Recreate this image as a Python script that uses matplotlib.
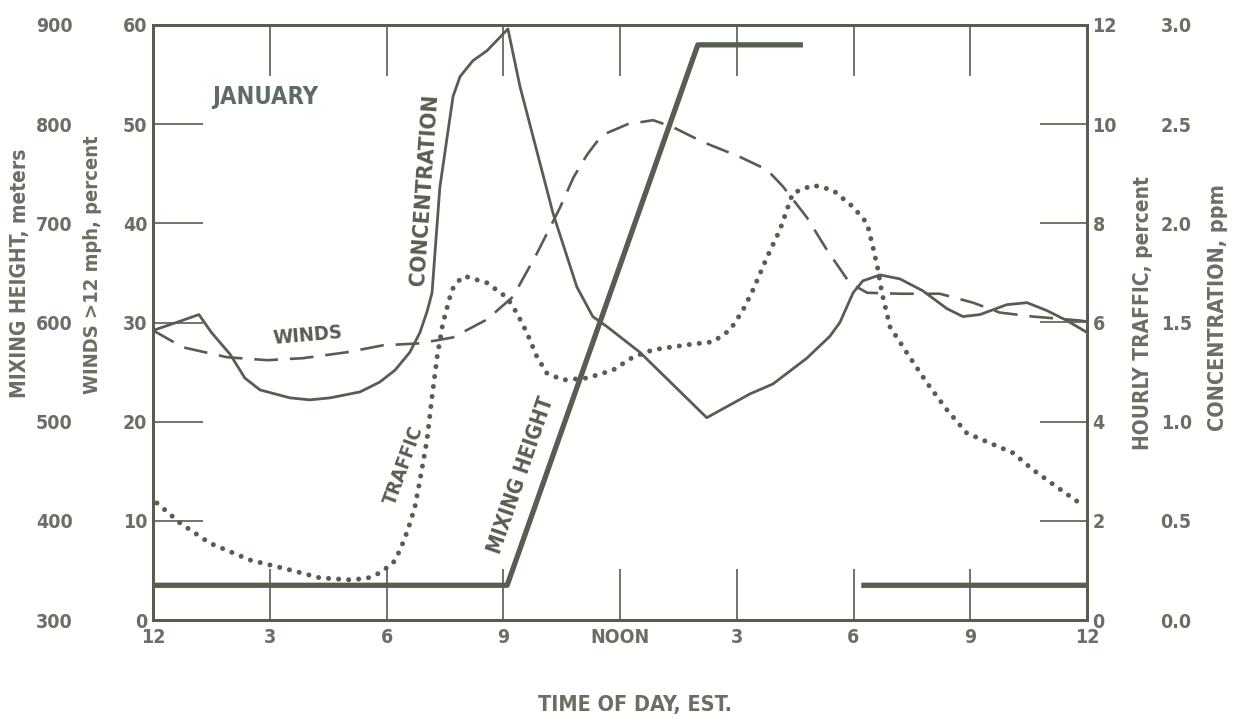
import matplotlib
matplotlib.use("Agg")
import matplotlib.pyplot as plt
import numpy as np

plt.rcParams['font.family'] = ['DejaVu Sans']
plt.rcParams['font.stretch'] = 'condensed'
plt.rcParams['font.weight'] = 'bold'

INK = '#585d52'
TXT = '#6a6e64'

# hours after midnight
conc_h = [0, 0.6, 1.18, 1.5, 1.98, 2.36, 2.75, 3.52, 4.03, 4.55, 5.32, 5.83, 6.22, 6.6,
          6.86, 7.05, 7.17, 7.37, 7.71, 7.89, 8.22, 8.58, 9.12, 9.43, 10.28, 10.89, 11.3,
          11.66, 12.51, 14.23, 15.34, 15.93, 16.8, 17.39, 17.65, 17.99, 18.24, 18.68,
          19.19, 19.78, 20.4, 20.81, 21.25, 21.94, 22.46, 22.97, 23.48, 24.0]
conc_ppm = [1.46, 1.50, 1.54, 1.45, 1.34, 1.22, 1.16, 1.12, 1.11, 1.12, 1.15, 1.20, 1.26, 1.35,
            1.45, 1.56, 1.65, 2.18, 2.64, 2.74, 2.82, 2.87, 2.98, 2.69, 2.05, 1.68, 1.53,
            1.48, 1.35, 1.02, 1.14, 1.19, 1.32, 1.43, 1.50, 1.65, 1.71, 1.74,
            1.72, 1.66, 1.57, 1.53, 1.54, 1.59, 1.60, 1.56, 1.51, 1.45]

wind_h = [0, 0.77, 1.9, 2.93, 3.85, 4.98, 5.91, 6.86, 7.71, 8.58, 9.25, 9.87, 10.46, 10.8,
          11.15, 11.4, 11.66, 12.2, 12.85, 13.36, 14.13, 15.08, 15.78, 16.19, 16.8, 17.32,
          17.9, 18.35, 19.19, 20.22, 21.07, 21.76, 22.61, 23.82, 24]
wind_pct = [29.2, 27.5, 26.5, 26.2, 26.4, 27.0, 27.7, 27.9, 28.5, 30.3, 32.6, 37.0, 41.6, 44.6,
            46.9, 48.2, 49.1, 50.0, 50.4, 49.7, 48.2, 46.7, 45.4, 43.7, 40.6, 37.3,
            34.0, 33.0, 32.9, 32.9, 32.0, 31.0, 30.6, 30.2, 30.1]

traf_h = [0.1, 0.69, 1.46, 2.49, 3.52, 4.29, 5.06, 5.5, 5.83, 6.17, 6.35, 6.55, 6.73, 6.86,
          7.04, 7.17, 7.3, 7.45, 7.68, 7.94, 8.07, 8.58, 9.1, 9.35, 9.61, 9.87, 10.12, 10.53,
          11.15, 11.82, 12.33, 12.85, 13.72, 14.39, 14.83, 15.16, 15.42, 15.78, 16.11, 16.44,
          16.96, 17.47, 17.99, 18.35, 18.5, 18.63, 18.73, 18.94, 19.37, 19.89, 20.4, 20.91,
          21.5, 22.1, 22.61, 23.23, 23.77]
traf_pct = [2.36, 1.96, 1.55, 1.21, 1.01, 0.85, 0.81, 0.84, 0.95, 1.15, 1.41, 1.82, 2.28, 2.82,
            3.63, 4.5, 5.3, 5.99, 6.66, 6.92, 6.92, 6.8, 6.5, 6.19, 5.79, 5.3, 4.98, 4.84,
            4.88, 5.04, 5.3, 5.45, 5.55, 5.61, 5.85, 6.25, 6.66, 7.32, 7.87, 8.61,
            8.77, 8.67, 8.33, 8.0, 7.52, 7.06, 6.6, 5.91, 5.39, 4.78, 4.24, 3.77,
            3.57, 3.37, 3.03, 2.68, 2.38]

mix_h = [0, 9.1, 14.0, 16.7, np.nan, 18.2, 24]
mix_m = [335, 335, 880, 880, np.nan, 335, 335]

hour_ticks = [0, 3, 6, 9, 12, 15, 18, 21, 24]
hour_labels = ['12', '3', '6', '9', 'NOON', '3', '6', '9', '12']

fig = plt.figure(figsize=(12.37, 7.23), dpi=100)
ax = fig.add_axes([153/1237, 1-620/723, 934/1237, 595/723])
ax_mh = ax.twinx()
ax_tr = ax.twinx()
ax_c = ax.twinx()

# winds axis (main)
ax.set_xlim(0, 24)
ax.set_ylim(0, 60)
ax.set_yticks(range(0, 61, 10))
ax.set_xticks(hour_ticks)
ax.set_xticklabels(hour_labels)
ax.tick_params(axis='y', direction='in', length=36, width=1.2, color=INK, pad=4,
               labelsize=14, labelcolor=TXT)
ax.tick_params(axis='x', direction='in', length=37, width=1.2, color=INK, pad=6,
               top=True, labelsize=14, labelcolor=TXT)
for a in (ax, ax_mh, ax_tr, ax_c):
    for s in a.spines.values():
        s.set_color(INK)
        s.set_linewidth(1.9)

# mixing height axis on left, labels only
ax_mh.yaxis.tick_left()
ax_mh.set_ylim(300, 900)
ax_mh.set_yticks(range(300, 901, 100))
ax_mh.tick_params(axis='y', length=0, pad=58, labelsize=14, labelcolor=TXT)

# hourly traffic on right
ax_tr.set_ylim(0, 12)
ax_tr.set_yticks(range(0, 13, 2))
ax_tr.tick_params(axis='y', direction='in', length=34, width=1.2, color=INK, pad=4,
                  labelsize=14, labelcolor=TXT)

# concentration on right, labels only
ax_c.set_ylim(0, 3)
ax_c.set_yticks(np.arange(0, 3.01, 0.5))
ax_c.set_yticklabels(['%.1f' % v for v in np.arange(0, 3.01, 0.5)])
ax_c.tick_params(axis='y', length=0, pad=53, labelsize=14, labelcolor=TXT)

for a in (ax_mh, ax_tr, ax_c):
    a.set_xlim(0, 24)

ax.plot(wind_h, wind_pct, color=INK, lw=1.9, dashes=(9, 4.5), zorder=3)
ax_tr.plot(traf_h, traf_pct, color=INK, lw=3.6, dashes=(0.01, 2.0),
           dash_capstyle='round', zorder=3)
ax_c.plot(conc_h, conc_ppm, color=INK, lw=2.0, zorder=4)
ax_mh.plot(mix_h, mix_m, color=INK, lw=3.8, solid_capstyle='butt', zorder=5)

# axis titles
fig.text(20/1237, 1-273/723, 'MIXING HEIGHT, meters', rotation=90, ha='center', va='center',
         fontsize=15, color=TXT)
fig.text(93/1237, 1-265/723, 'WINDS >12 mph, percent', rotation=90, ha='center', va='center',
         fontsize=14.5, color=TXT)
fig.text(1143/1237, 1-313/723, 'HOURLY TRAFFIC, percent', rotation=90, ha='center', va='center',
         fontsize=15, color=TXT)
fig.text(1218/1237, 1-308/723, 'CONCENTRATION, ppm', rotation=90, ha='center', va='center',
         fontsize=15.5, color=TXT)
fig.text(635/1237, 1-705/723, 'TIME OF DAY, EST.', ha='center', va='center',
         fontsize=15.5, color=TXT)

# curve annotations
fig.text(265/1237, 1-97/723, 'JANUARY', ha='center', va='center', fontsize=17, color='#5f6a6a')
fig.text(425/1237, 1-190/723, 'CONCENTRATION', rotation=86, ha='center', va='center',
         fontsize=16, color=INK)
fig.text(308/1237, 1-335/723, 'WINDS', rotation=5, ha='center', va='center',
         fontsize=14.5, color=INK)
fig.text(404/1237, 1-465/723, 'TRAFFIC', rotation=70, ha='center', va='center',
         fontsize=14, color=INK)
fig.text(521/1237, 1-475/723, 'MIXING HEIGHT', rotation=71, ha='center', va='center',
         fontsize=15, color=INK)

fig.savefig('out.png', dpi=100, facecolor='white')
